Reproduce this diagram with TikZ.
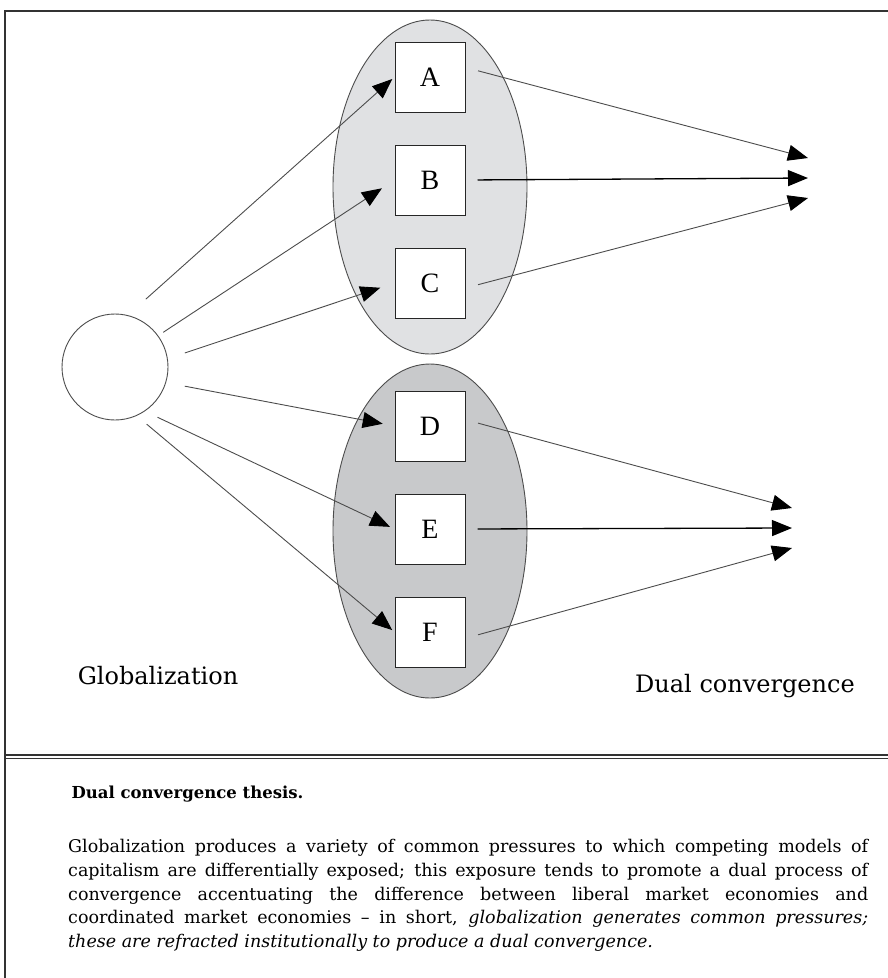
\documentclass[tikz,border=0pt]{standalone}
\usepackage{fontspec}
\setmainfont{DejaVu Serif}
\newfontfamily\boxfont{Liberation Serif}
\usetikzlibrary{arrows.meta,positioning,shapes.geometric}

\definecolor{upperfill}{RGB}{224,225,227}
\definecolor{lowerfill}{RGB}{200,201,203}

\begin{document}
\begin{tikzpicture}[x=1pt,y=-1pt,>={Triangle[length=20pt,width=16pt,color=black]},
                    node distance=32pt]
	  \tikzstyle{setshape}=[ellipse,draw=black!70,line width=0.9pt,minimum width=194pt,minimum height=334pt,inner sep=0pt]
	  \tikzstyle{itembox}=[rectangle,draw=black!85,line width=1pt,fill=white,minimum size=70pt,inner sep=0pt,font=\boxfont\fontsize{28}{28}\selectfont]
	  \tikzstyle{feedline}=[->,draw=black!70,line width=0.9pt]
	  \tikzstyle{mainline}=[->,draw=black,line width=1.3pt]
	  \tikzstyle{heading}=[font=\fontsize{24}{28}\selectfont]

	  \useasboundingbox (0,0) rectangle (888,978);

	  % frame and divider
	  \draw[black!80,line width=1.5pt] (888,11) -- (5,11) -- (5,978);
	  \draw[black!80,line width=1.2pt] (5,755) -- (888,755) (5,758.5) -- (888,758.5);

	  \node[setshape,fill=upperfill] (upper) at (430,187) {};
	  \node[setshape,fill=lowerfill] (lower) at (430,531) {};

	  \node[itembox]               (B) at (430,180) {B};
	  \node[itembox,above=of B]    (A)              {A};
	  \node[itembox,below=of B]    (C)              {C};
	  \node[itembox]               (E) at (430,529) {E};
	  \node[itembox,above=of E]    (D)              {D};
	  \node[itembox,below=of E]    (F)              {F};

	  \node[circle,draw=black!70,line width=0.9pt,minimum size=106pt,inner sep=0pt] (glob) at (115,367) {};

	  \coordinate (dc) at (808,178);
	  \coordinate[above=20pt of dc] (dc1);
	  \coordinate[below=20pt of dc] (dc3);
	  \coordinate (lc) at (792,528);
	  \coordinate[above=20pt of lc] (lc1);
	  \coordinate[below=20pt of lc] (lc3);

	  \draw[feedline,shorten <=24pt,shorten >=3pt]  (glob.76)  -- (A.west);
	  \draw[feedline,shorten <=6pt,shorten >=15pt]  (glob.36)  -- (B.west);
	  \draw[feedline,shorten <=18pt,shorten >=15pt] (glob.9)   -- (C.west);
	  \draw[feedline,shorten <=19pt,shorten >=12pt] (glob.-17) -- (D.west);
	  \draw[feedline,shorten <=14pt,shorten >=5pt]  (glob.-56) -- (E.west);
	  \draw[feedline,shorten <=13pt,shorten >=3pt]  (glob.-66) -- (F.west);

	  \draw[feedline,shorten <=13pt] (A.15)  -- (dc1);
	  \draw[mainline,shorten <=12pt] (B.east) -- (dc);
	  \draw[feedline,shorten <=13pt] (C.-8)  -- (dc3);
	  \draw[feedline,shorten <=13pt] (D.10)  -- (lc1);
	  \draw[mainline,shorten <=12pt] (E.east) -- (lc);
	  \draw[feedline,shorten <=13pt] (F.-10) -- (lc3);

	  \node[heading] (globname) at (158,676) {Globalization};
	  \node[heading] (dcname)   at (745,686) {Dual convergence};

	  \node[anchor=base west,font=\bfseries\fontsize{16.5}{22}\selectfont] (title) at (68,798) {Dual convergence thesis.};
	  \node[anchor=north west,text width=800pt,align=justify,inner sep=0pt,
	        font=\fontsize{17.5}{23.8}\selectfont] (thesis) at (68,839)
	    {Globalization produces a variety of common pressures to which competing models of\linebreak
	     capitalism are differentially exposed; this exposure tends to promote a dual process of\linebreak
	     convergence accentuating the difference between liberal market economies and\linebreak
	     coordinated market economies -- in short, \emph{globalization generates common pressures;}\linebreak
	     \emph{these are refracted institutionally to produce a dual convergence.}};
	\end{tikzpicture}
\end{document}
